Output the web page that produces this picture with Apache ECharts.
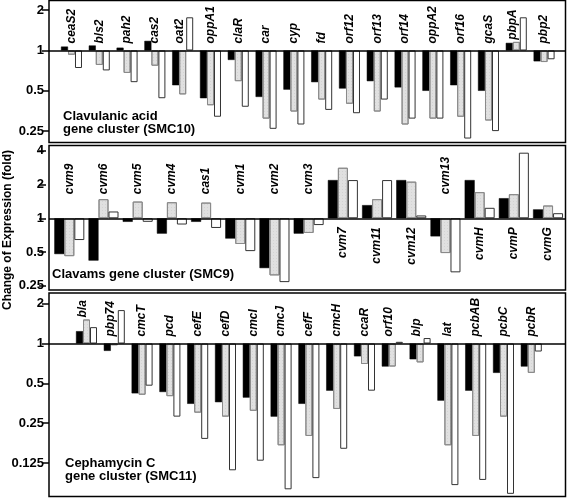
<!DOCTYPE html>
<html><head><meta charset="utf-8">
<script src="https://cdn.jsdelivr.net/npm/echarts@6/dist/echarts.min.js"></script>
<style>html,body{margin:0;padding:0;background:#fff}#c{width:567px;height:498px}</style>
</head><body><div id="c"></div>
<script>
// ---- Data ----
const genes1 = ['ceaS2','bls2','pah2','cas2','oat2','oppA1','claR','car','cyp','fd','orf12','orf13','orf14','oppA2','orf16','gcaS','pbpA','pbp2'];
const black1 = [1.07,1.09,1.05,1.18,0.55,0.44,0.85,0.45,0.51,0.58,0.52,0.59,0.53,0.50,0.55,0.50,1.14,0.83];
const gray1  = [0.93,0.78,0.68,0.77,0.47,0.39,0.59,0.31,0.35,0.43,0.40,0.35,0.28,0.31,0.32,0.30,1.16,0.82];
const white1 = [0.74,0.71,0.58,0.44,1.77,0.32,0.38,0.26,0.28,0.36,0.34,0.43,0.31,0.31,0.22,0.25,1.77,0.86];
const ticks1 = [0.25,0.5,1,2];

const genes2 = ['cvm9','cvm6','cvm5','cvm4','cas1','cvm1','cvm2','cvm3','cvm7','cvm11','cvm12','cvm13','cvmH','cvmP','cvmG'];
const black2 = [0.48,0.42,0.93,0.73,0.93,0.66,0.36,0.73,2.19,1.31,2.19,0.69,2.19,1.51,1.20];
const gray2  = [0.46,1.48,1.41,1.39,1.38,0.59,0.31,0.74,2.82,1.48,2.12,0.49,1.71,1.64,1.30];
const white2 = [0.64,1.15,0.93,0.88,0.82,0.51,0.27,0.87,2.19,2.19,1.06,0.33,1.24,3.84,1.11];
const ticks2 = [0.25,0.5,1,2,4];

const genes3 = ['bla','pbp74','cmcT','pcd','cefE','cefD','cmcI','cmcJ','cefF','cmcH','ccaR','orf10','blp','lat','pcbAB','pcbC','pcbR'];
const black3 = [1.24,0.88,0.42,0.43,0.35,0.36,0.39,0.28,0.35,0.44,0.80,0.67,0.76,0.37,0.44,0.60,0.67];
const gray3  = [1.52,0.97,0.41,0.40,0.30,0.28,0.31,0.17,0.20,0.32,0.70,0.67,0.72,0.17,0.20,0.28,0.60];
const white3 = [1.33,1.79,0.48,0.28,0.19,0.11,0.13,0.079,0.096,0.16,0.44,1.03,1.10,0.085,0.093,0.073,0.87];
const ticks3 = [0.125,0.25,0.5,1,2];

const panelTitles = [['Clavulanic acid','gene cluster (SMC10)'],['Clavams gene cluster (SMC9)'],['Cephamycin C','gene cluster (SMC11)']];
const yTitle = 'Change of Expression (fold)';

// ---- Layout ----
const GRID_LEFT = 49, GRID_W = 516.5, TICK_LEN = 7;
const panels = [
  {genes:genes1,b:black1,g:gray1,w:white1,ticks:ticks1, top:0.5, height:142, xMin:-0.809, xMax:17.77, yMin:0.2055, yMax:2.363, bw:7, mode:'above', gapA:7, gapB:9,
   title:{x:63, y:110}},
  {genes:genes2,b:black2,g:gray2,w:white2,ticks:ticks2, top:145.5, height:144.5, xMin:-0.594, xMax:14.51, yMin:0.2297, yMax:4.45, bw:10, mode:'auto', gapA:24, gapB:9,
   title:{x:52, y:268}},
  {genes:genes3,b:black3,g:gray3,w:white3,ticks:ticks3, top:293, height:203.5, xMin:-1.349, xMax:17.23, yMin:0.0697, yMax:2.41, bw:7, mode:'above', gapA:7, gapB:9,
   title:{x:65, y:457}}
];

const FONT = '"Liberation Sans", Arial, Helvetica, sans-serif';
const grid=[], xAxis=[], yAxis=[], series=[], graphic=[];

panels.forEach((p, k) => {
  grid.push({left:GRID_LEFT, width:GRID_W, top:p.top, height:p.height, show:true, borderColor:'#000', borderWidth:1.5, backgroundColor:'transparent'});
  xAxis.push({type:'value', gridIndex:k, min:p.xMin, max:p.xMax, show:false, axisLine:{onZero:false}});
  yAxis.push({type:'log', logBase:2, gridIndex:k, min:p.yMin, max:p.yMax, position:'left',
    axisLine:{show:false, onZero:false}, splitLine:{show:false}, axisTick:{show:false},
    axisLabel:{margin:5, color:'#000', fontFamily:FONT, fontWeight:'bold', fontSize:13,
      showMinLabel:false, showMaxLabel:false,
      formatter:(v)=>{ const t = p.ticks.find(t=>Math.abs(t-v)/t < 1e-4); return t===undefined ? '' : String(t); }}
  });
  const mk = (vals, style, extra) => Object.assign({
    type:'bar', xAxisIndex:k, yAxisIndex:k, barWidth:p.bw, barGap:'0%', silent:true,
    data: vals.map((v,i)=>[i,v]), itemStyle:style
  }, extra||{});
  const tickLenUnits = TICK_LEN * (p.xMax - p.xMin) / GRID_W;
  const tickLines = p.ticks.map(t => [{coord:[p.xMin, t]}, {coord:[p.xMin + tickLenUnits, t]}]);
  series.push(mk(p.b, {color:'#000', borderColor:'#000', borderWidth:0.5}, {
    markLine:{silent:true, symbol:'none', label:{show:false}, lineStyle:{color:'#000', width:1.5, type:'solid'},
      data:[{yAxis:1}].concat(tickLines), z:5}
  }));
  series.push(mk(p.g, {color:'#e0e0e0', borderColor:'#8a8a8a', borderWidth:1,
    decal:{symbol:'rect', symbolSize:0.6, dashArrayX:[1,2], dashArrayY:[1,2], color:'rgba(120,120,120,0.4)'}}));
  series.push(mk(p.w, {color:'#fff', borderColor:'#333', borderWidth:1}));
  // gene labels
  series.push({
    type:'custom', xAxisIndex:k, yAxisIndex:k, silent:true, z:10,
    data: p.genes.map((n,i)=>[i,1]),
    renderItem:(params, api) => {
      const i = api.value(0);
      const base = api.coord([i,1]);
      const allUp = p.b[i]>=1 && p.g[i]>=1 && p.w[i]>=1;
      const below = p.mode==='auto' && allUp;
      let x = base[0], y, align;
      if (below) { y = base[1] + p.gapB; align = 'right'; }
      else {
        y = base[1] - p.gapA; align = 'left';
        if (p.mode==='above' && p.w[i] > 1) {
          x = base[0] - p.bw/2;
          const top = api.coord([i, Math.max(p.b[i], p.g[i])])[1];
          y = Math.min(y, top - 2);
        }
      }
      return {type:'text', x:x, y:y, rotation:Math.PI/2,
        style:{text:p.genes[i], fill:'#000', font:'italic bold 12px '+FONT,
          textAlign:align, textVerticalAlign:'middle', align:align, verticalAlign:'middle'}};
    }
  });
  graphic.push({type:'text', left:p.title.x, top:p.title.y, silent:true,
    style:{text:panelTitles[k].join('\n'), fill:'#000', font:'bold 13px '+FONT, lineHeight:13}});
});

graphic.push({type:'text', x:8, y:230, rotation:Math.PI/2, silent:true,
  style:{text:yTitle, fill:'#000', font:'bold 12px '+FONT, textAlign:'center', textVerticalAlign:'middle', align:'center', verticalAlign:'middle'}});

const chart = echarts.init(document.getElementById('c'), null, {renderer:'canvas'});
chart.setOption({animation:false, backgroundColor:'#fff', grid, xAxis, yAxis, series, graphic});
</script></body></html>
